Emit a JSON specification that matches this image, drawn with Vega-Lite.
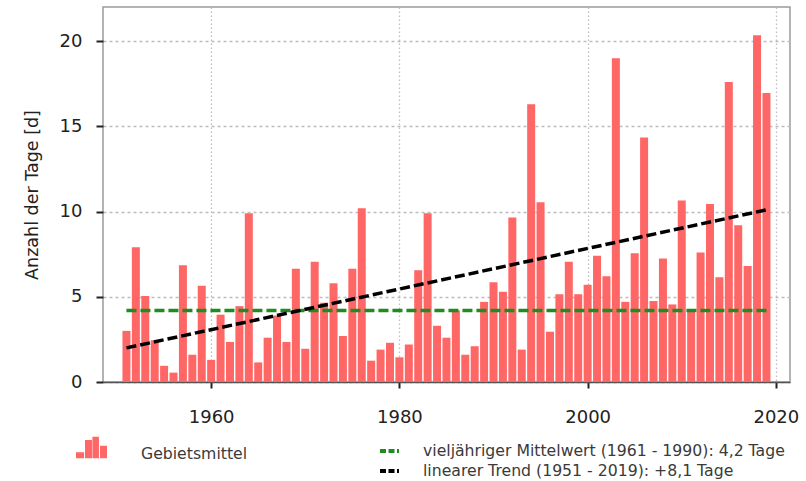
{
  "$schema": "https://vega.github.io/schema/vega-lite/v6.json",
  "width": 687,
  "height": 375,
  "autosize": {"type": "none"},
  "padding": {"left": 103, "top": 7, "right": 16, "bottom": 99},
  "background": "white",
  "config": {
    "font": "DejaVu Sans",
    "view": {"stroke": "#9a9a9a", "strokeWidth": 1.5},
    "axis": {
      "labelFont": "DejaVu Sans",
      "labelColor": "#222222",
      "labelFontSize": 18,
      "tickColor": "#222222",
      "tickWidth": 2,
      "gridColor": "#bdbdbd",
      "gridWidth": 1.3,
      "titleFont": "DejaVu Sans",
      "titleFontWeight": "normal",
      "titleColor": "#222222"
    },
    "legend": {"padding": 0, "labelFont": "DejaVu Sans", "labelLimit": 600}
  },
  "datasets": {
    "bars": [
      {"year": 1951, "value": 3.0}, {"year": 1952, "value": 7.9}, {"year": 1953, "value": 5.05},
      {"year": 1954, "value": 2.45}, {"year": 1955, "value": 0.95}, {"year": 1956, "value": 0.55},
      {"year": 1957, "value": 6.85}, {"year": 1958, "value": 1.6}, {"year": 1959, "value": 5.65},
      {"year": 1960, "value": 1.3}, {"year": 1961, "value": 3.95}, {"year": 1962, "value": 2.35},
      {"year": 1963, "value": 4.45}, {"year": 1964, "value": 9.9}, {"year": 1965, "value": 1.15},
      {"year": 1966, "value": 2.6}, {"year": 1967, "value": 3.9}, {"year": 1968, "value": 2.35},
      {"year": 1969, "value": 6.65}, {"year": 1970, "value": 1.95}, {"year": 1971, "value": 7.05},
      {"year": 1972, "value": 4.65}, {"year": 1973, "value": 5.8}, {"year": 1974, "value": 2.7},
      {"year": 1975, "value": 6.65}, {"year": 1976, "value": 10.2}, {"year": 1977, "value": 1.25},
      {"year": 1978, "value": 1.9}, {"year": 1979, "value": 2.3}, {"year": 1980, "value": 1.45},
      {"year": 1981, "value": 2.2}, {"year": 1982, "value": 6.55}, {"year": 1983, "value": 9.9},
      {"year": 1984, "value": 3.3}, {"year": 1985, "value": 2.6}, {"year": 1986, "value": 4.2},
      {"year": 1987, "value": 1.6}, {"year": 1988, "value": 2.1}, {"year": 1989, "value": 4.7},
      {"year": 1990, "value": 5.85}, {"year": 1991, "value": 5.3}, {"year": 1992, "value": 9.65},
      {"year": 1993, "value": 1.9}, {"year": 1994, "value": 16.3}, {"year": 1995, "value": 10.55},
      {"year": 1996, "value": 2.95}, {"year": 1997, "value": 5.15}, {"year": 1998, "value": 7.05},
      {"year": 1999, "value": 5.15}, {"year": 2000, "value": 5.7}, {"year": 2001, "value": 7.4},
      {"year": 2002, "value": 6.2}, {"year": 2003, "value": 19.0}, {"year": 2004, "value": 4.7},
      {"year": 2005, "value": 7.55}, {"year": 2006, "value": 14.35}, {"year": 2007, "value": 4.75},
      {"year": 2008, "value": 7.25}, {"year": 2009, "value": 4.55}, {"year": 2010, "value": 10.65},
      {"year": 2011, "value": 4.25}, {"year": 2012, "value": 7.6}, {"year": 2013, "value": 10.45},
      {"year": 2014, "value": 6.15}, {"year": 2015, "value": 17.6}, {"year": 2016, "value": 9.2},
      {"year": 2017, "value": 6.8}, {"year": 2018, "value": 20.35}, {"year": 2019, "value": 16.95}
    ],
    "lines": [
      {"year": 1951, "value": 4.2, "series": "vieljähriger Mittelwert (1961 - 1990): 4,2 Tage"},
      {"year": 2019, "value": 4.2, "series": "vieljähriger Mittelwert (1961 - 1990): 4,2 Tage"},
      {"year": 1951, "value": 2.0, "series": "linearer Trend (1951 - 2019): +8,1 Tage"},
      {"year": 2019, "value": 10.1, "series": "linearer Trend (1951 - 2019): +8,1 Tage"}
    ]
  },
  "encoding": {
    "x": {
      "field": "year",
      "type": "quantitative",
      "scale": {"domain": [1949.04, 2020.97], "nice": false, "zero": false},
      "axis": {
        "title": null,
        "values": [1960, 1980, 2000, 2020],
        "format": "d",
        "grid": true,
        "gridDash": [1.5, 2.5],
        "domainColor": "#555555",
        "domainWidth": 1.5,
        "tickSize": 6,
        "labelPadding": 20
      }
    },
    "y": {
      "field": "value",
      "type": "quantitative",
      "scale": {"domain": [0, 22], "nice": false},
      "axis": {
        "title": "Anzahl der Tage [d]",
        "titleFontSize": 17.5,
        "titlePadding": 18,
        "values": [0, 5, 10, 15, 20],
        "grid": true,
        "gridDash": [3, 3],
        "domain": false,
        "tickSize": 7,
        "labelPadding": 14
      }
    }
  },
  "layer": [
    {
      "data": {"name": "bars"},
      "mark": {"type": "bar", "width": 8},
      "encoding": {
        "fill": {
          "datum": "Gebietsmittel",
          "type": "nominal",
          "scale": {"domain": ["Gebietsmittel"], "range": ["#ff6666"]},
          "legend": {
            "orient": "none",
            "legendX": -27,
            "legendY": 431.5,
            "title": null,
            "symbolType": "M-1,-0.11H-0.48V0.28H-1Z M-0.42,-0.9H0.03V0.28H-0.42Z M0.06,-1.12H0.48V0.28H0.06Z M0.55,-0.54H1V0.28H0.55Z",
            "symbolSize": 961,
            "symbolStrokeWidth": 0,
            "symbolOpacity": 1,
            "labelFontSize": 15.7,
            "labelColor": "#3a3a3a",
            "labelOffset": 34
          }
        }
      }
    },
    {
      "data": {"name": "lines"},
      "mark": {"type": "line", "strokeWidth": 3.5, "strokeDash": [10, 4], "strokeCap": "butt"},
      "encoding": {
        "stroke": {
          "field": "series",
          "type": "nominal",
          "sort": null,
          "scale": {
            "domain": ["vieljähriger Mittelwert (1961 - 1990): 4,2 Tage", "linearer Trend (1951 - 2019): +8,1 Tage"],
            "range": ["#1e8c1e", "#000000"]
          },
          "legend": {
            "orient": "none",
            "legendX": 275,
            "legendY": 432.5,
            "title": null,
            "symbolType": "stroke",
            "symbolSize": 361,
            "symbolStrokeWidth": 4,
            "symbolDash": [6, 2.5],
            "labelFontSize": 15.7,
            "labelColor": "#3a3a3a",
            "labelOffset": 22,
            "rowPadding": -3
          }
        }
      }
    }
  ]
}
